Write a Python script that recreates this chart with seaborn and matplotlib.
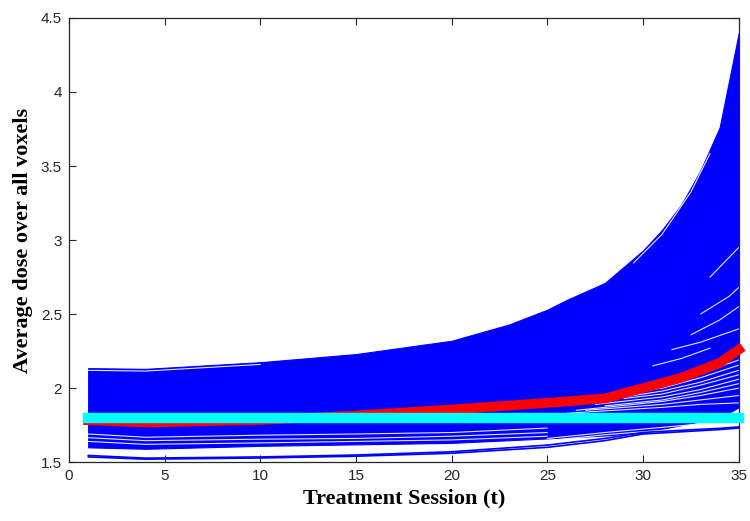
import numpy as np
import pandas as pd
import matplotlib
matplotlib.use("Agg")
import matplotlib.pyplot as plt
import seaborn as sns

# ---------------- data ----------------
# envelope of the dense bundle of patient curves
env_t = [1, 4, 10, 15, 20, 23, 25, 26, 28, 30, 31, 32, 33, 34, 35]
env_upper = [2.135, 2.13, 2.175, 2.23, 2.32, 2.43, 2.53, 2.595, 2.71, 2.93, 3.07, 3.24, 3.47, 3.76, 4.40]

low_t = [1, 4, 10, 15, 20, 25, 28, 30, 32, 34, 35]
env_lower = [1.60, 1.59, 1.61, 1.62, 1.63, 1.66, 1.68, 1.70, 1.75, 1.80, 1.87]

# lowest individual curves
bot_t = [1, 4, 10, 15, 20, 25, 28, 30, 32, 34, 35]
bottom_1 = [1.545, 1.527, 1.535, 1.548, 1.570, 1.615, 1.66, 1.70, 1.715, 1.728, 1.738]
bottom_2 = [1.535, 1.520, 1.528, 1.540, 1.560, 1.600, 1.645, 1.69, 1.705, 1.720, 1.730]

# thin white gaps between neighbouring curves, left part of the bundle
gap_t = [1, 4, 10, 15, 20, 25]
gap_1 = [1.690, 1.668, 1.682, 1.690, 1.700, 1.730]
gap_2 = [1.665, 1.645, 1.655, 1.660, 1.675, 1.700]
gap_3 = [1.640, 1.620, 1.630, 1.640, 1.650, 1.675]
top_gap_t = [1, 4, 10]
top_gap = [2.12, 2.115, 2.16]

# gaps in the fanning right part (below the mean curve)
fan_gaps = [
    ([30.0, 31, 33, 35], [2.01, 2.03, 2.10, 2.19]),
    ([29.5, 31, 33, 35], [1.97, 2.00, 2.07, 2.155]),
    ([28.5, 31, 33, 35], [1.93, 1.98, 2.04, 2.12]),
    ([29.0, 31, 33, 35], [1.93, 1.96, 2.02, 2.09]),
    ([27.5, 31, 33, 35], [1.89, 1.94, 1.99, 2.06]),
    ([28.0, 31, 33, 35], [1.88, 1.92, 1.97, 2.03]),
    ([26.5, 31, 33, 35], [1.85, 1.91, 1.95, 2.00]),
    ([27.0, 31, 33, 35], [1.85, 1.89, 1.92, 1.95]),
    ([26.0, 31, 33, 35], [1.83, 1.87, 1.89, 1.90]),
]
under_gap_t = [25, 28, 31, 34]
under_gap_1 = [1.66, 1.70, 1.735, 1.77]
under_gap_2 = [1.645, 1.685, 1.715, 1.75]

# gaps above the mean curve
upper_gaps = [
    ([31.5, 33, 35], [2.26, 2.31, 2.40]),
    ([32.5, 34, 35], [2.36, 2.46, 2.55]),
    ([33, 34.5, 35], [2.50, 2.62, 2.68]),
    ([30.5, 32, 33.5], [2.15, 2.20, 2.27]),
    ([33.5, 35], [2.75, 2.95]),
    ([29.5, 31, 32.5, 33.5], [2.845, 3.04, 3.325, 3.585]),
]

# mean curve (red) and prescribed level (cyan)
mean_t = [1, 4, 10, 15, 20, 25, 28, 30, 32, 34, 35]
mean_dose = [1.783, 1.768, 1.785, 1.815, 1.856, 1.90, 1.93, 2.00, 2.07, 2.17, 2.26]
ref_t = [1, 35]
ref_dose = [1.80, 1.80]

x_ticks = [0, 5, 10, 15, 20, 25, 30, 35]
y_ticks = [1.5, 2, 2.5, 3, 3.5, 4, 4.5]
y_tick_labels = ["1.5", "2", "2.5", "3", "3.5", "4", "4.5"]
x_label = "Treatment Session (t)"
y_label = "Average dose over all voxels"

# ---------------- plotting ----------------
sns.set_theme(style="white")
plt.rcParams["font.family"] = ["Liberation Sans", "DejaVu Sans"]

fig = plt.figure(figsize=(7.5, 5.21), dpi=100)
ax = fig.add_axes([0.092, 0.113, 0.893, 0.8525])

BLUE = "#0000ff"

# dense bundle
grid_t = np.array(sorted(set(env_t) | set(low_t)), dtype=float)
up = np.interp(grid_t, env_t, env_upper)
lo = np.interp(grid_t, low_t, env_lower)
ax.fill_between(grid_t, lo, up, color=BLUE, lw=0.8, edgecolor=BLUE, zorder=1)

# white gaps
frames = [
    pd.DataFrame({"t": gap_t, "v": gap_1, "id": "g1"}),
    pd.DataFrame({"t": gap_t, "v": gap_2, "id": "g2"}),
    pd.DataFrame({"t": gap_t, "v": gap_3, "id": "g3"}),
    pd.DataFrame({"t": top_gap_t, "v": top_gap, "id": "g4"}),
    pd.DataFrame({"t": under_gap_t, "v": under_gap_1, "id": "u1"}),
    pd.DataFrame({"t": under_gap_t, "v": under_gap_2, "id": "u2"}),
]
for i, (tt, vv) in enumerate(fan_gaps):
    frames.append(pd.DataFrame({"t": tt, "v": vv, "id": f"f{i}"}))
for i, (tt, vv) in enumerate(upper_gaps):
    frames.append(pd.DataFrame({"t": tt, "v": vv, "id": f"up{i}"}))
gaps = pd.concat(frames)
sns.lineplot(data=gaps, x="t", y="v", units="id", estimator=None, color="white",
             lw=0.8, alpha=0.9, ax=ax, zorder=2, legend=False)

# lowest individual curves
bottoms = pd.concat([pd.DataFrame({"t": bot_t, "v": bottom_1, "id": "b1"}),
                     pd.DataFrame({"t": bot_t, "v": bottom_2, "id": "b2"})])
sns.lineplot(data=bottoms, x="t", y="v", units="id", estimator=None, color=BLUE,
             lw=1.2, ax=ax, zorder=3, legend=False)

# mean curve
sns.lineplot(x=mean_t, y=mean_dose, color="#ff0000", lw=7.0, ax=ax, zorder=4,
             solid_capstyle="projecting", clip_on=False)
# reference level
ax.plot(ref_t, ref_dose, color="#00ffff", lw=7.5, zorder=5,
        solid_capstyle="projecting", clip_on=False)

ax.set_xlim(0, 35)
ax.set_ylim(1.5, 4.5)
ax.set_xticks(x_ticks)
ax.set_xticklabels([str(v) for v in x_ticks])
ax.set_yticks(y_ticks)
ax.set_yticklabels(y_tick_labels)

for s in ax.spines.values():
    s.set_visible(True)
    s.set_color("#262626")
    s.set_linewidth(0.9)
ax.tick_params(axis="both", which="major", direction="in", length=5, width=0.8,
               colors="#262626", labelcolor="#262626", labelsize=11,
               top=True, right=True, bottom=True, left=True, pad=5)
ax.grid(False)
ax.set_facecolor("white")

ax.set_xlabel(x_label, family=["Liberation Serif", "DejaVu Serif"], fontweight="bold",
              fontsize=16, color="black", labelpad=4)
ax.set_ylabel(y_label, family=["Liberation Serif", "DejaVu Serif"], fontweight="bold",
              fontsize=16, color="black", labelpad=6)

fig.savefig("out.png", dpi=100, facecolor="white")
